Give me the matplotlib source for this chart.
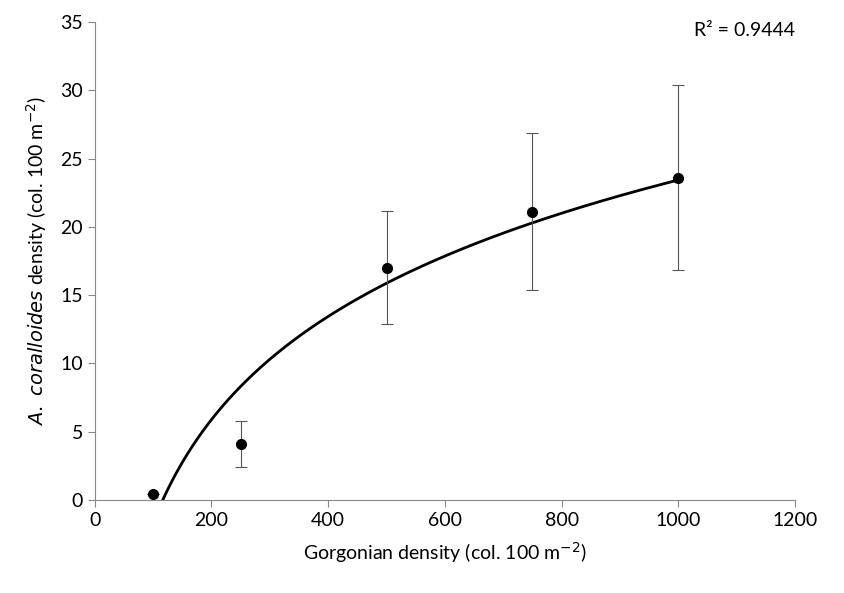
import matplotlib.pyplot as plt
import numpy as np

plt.rcParams["font.family"] = ["Lato", "DejaVu Sans"]

# values
gorgonian = np.array([100, 250, 500, 750, 1000])
coralloides = np.array([0.4, 4.1, 17.0, 21.1, 23.6])
err = np.array([0.0, 1.7, 4.15, 5.75, 6.75])

# logarithmic trendline, fitted to the points (as Excel does)
a, b = np.polyfit(np.log(gorgonian), coralloides, 1)
x_fit = np.linspace(100, 1000, 400)
y_fit = a * np.log(x_fit) + b

fig = plt.figure(figsize=(8.45, 5.93), dpi=100)
ax = fig.add_axes([0.112, 0.157, 0.829, 0.806])

ax.plot(x_fit, y_fit, color="black", lw=2, clip_on=True)
ax.errorbar(gorgonian, coralloides, yerr=err, fmt="o", color="black", ms=7,
            ecolor="#555555", elinewidth=0.8, capsize=4, capthick=0.8)

ax.set_xlim(0, 1200)
ax.set_ylim(0, 35)
ax.set_xticks(range(0, 1201, 200))
ax.set_yticks(range(0, 36, 5))
for s in ["top", "right"]:
    ax.spines[s].set_visible(False)
for s in ["left", "bottom"]:
    ax.spines[s].set_color("#888888")
ax.tick_params(direction="out", length=5, color="#888888", labelsize=14)

ax.set_xlabel("Gorgonian density (col. 100 m$^{-2}$)", fontsize=14, labelpad=8)
ax.set_ylabel("$\\it{A.\\ coralloides}$ density (col. 100 m$^{-2}$)", fontsize=14,
              labelpad=8)
ax.text(1.0, 1.0, "R² = 0.9444", transform=ax.transAxes, ha="right", va="top",
        fontsize=14)

fig.savefig("out.png", dpi=100)
